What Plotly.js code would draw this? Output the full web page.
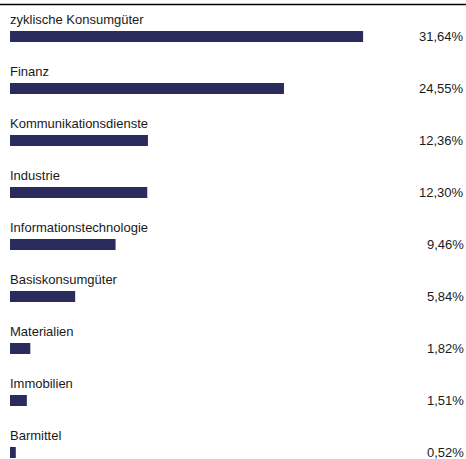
<!DOCTYPE html>
<html>
<head>
<meta charset="utf-8">
<script src="https://cdn.plot.ly/plotly-3.0.1.min.js"></script>
<style>html,body{margin:0;padding:0;background:#fff;}#chart{width:466px;height:459px;}</style>
</head>
<body>
<div id="chart"></div>
<script>
const categories = ["zyklische Konsumgüter","Finanz","Kommunikationsdienste","Industrie","Informationstechnologie","Basiskonsumgüter","Materialien","Immobilien","Barmittel"];
const values = [31.64, 24.55, 12.36, 12.30, 9.46, 5.84, 1.82, 1.51, 0.52];
const valueLabels = values.map(v => v.toFixed(2).replace('.', ',') + '%');

const font = "Liberation Sans, Arial, sans-serif";
const textColor = "#1a1a1a";

const annotations = [];
categories.forEach((c, i) => {
  annotations.push({x: 0, y: c, xref: 'x', yref: 'y', text: c, showarrow: false,
    xanchor: 'left', yanchor: 'middle', xshift: -1, yshift: 17, borderpad: 0,
    font: {family: font, size: 13, color: textColor}});
  annotations.push({x: 1, y: c, xref: 'paper', yref: 'y', text: valueLabels[i], showarrow: false,
    xanchor: 'right', yanchor: 'middle', xshift: -1, yshift: 0, borderpad: 0,
    font: {family: font, size: 13, color: textColor}});
});

const data = [{
  type: 'bar', orientation: 'h', x: values, y: categories,
  width: 0.212, marker: {color: '#2b2c5e'}, hoverinfo: 'none'
}];

const layout = {
  width: 466, height: 459,
  margin: {l: 0, r: 0, t: 0, b: 0},
  paper_bgcolor: '#fff', plot_bgcolor: '#fff',
  showlegend: false,
  xaxis: {range: [-0.896, 40.86], visible: false, fixedrange: true},
  yaxis: {type: 'category', categoryorder: 'array', categoryarray: categories,
    range: [8.125, -0.702], visible: false, fixedrange: true},
  shapes: [{type: 'line', xref: 'paper', yref: 'paper', x0: 0, x1: 1,
    y0: 1 - 4.5/459, y1: 1 - 4.5/459, line: {color: '#000', width: 1.5}}],
  annotations: annotations
};

Plotly.newPlot('chart', data, layout, {displayModeBar: false, staticPlot: true});
</script>
</body>
</html>
